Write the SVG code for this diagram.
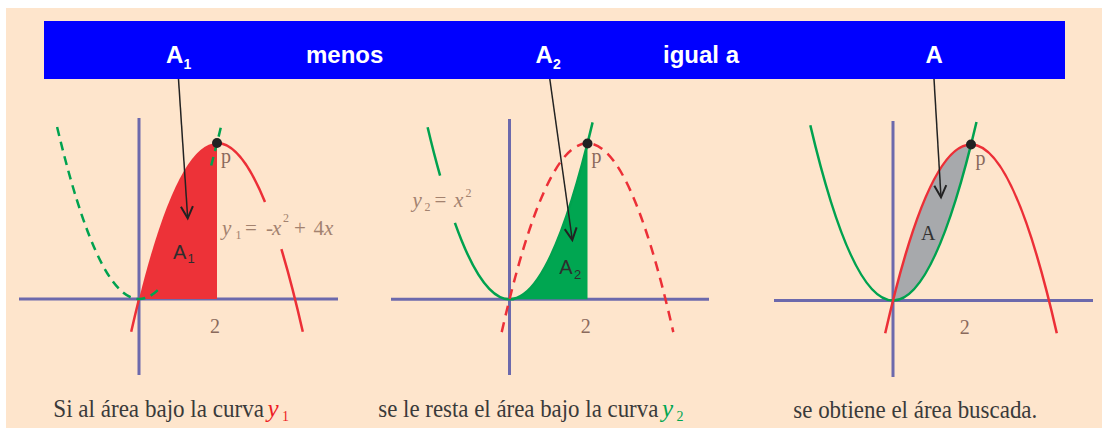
<svg xmlns="http://www.w3.org/2000/svg" width="1102" height="428" viewBox="0 0 1102 428">
<style>
.axis{stroke:#6C69AC;stroke-width:3;fill:none}
.red{stroke:#EC2F37;stroke-width:2.5;fill:none}
.grn{stroke:#00A24F;stroke-width:2.5;fill:none}
.dash1{stroke-dasharray:9 6}
.dash2{stroke-dasharray:10 7}
.bar{font-family:"Liberation Sans",Arial,sans-serif;font-weight:bold;fill:#FFFFFF;font-size:24px}
.lbl{font-family:"Liberation Serif","Times New Roman",serif;fill:#8A6A5C;font-size:20px}
.eq{font-family:"Liberation Serif","Times New Roman",serif;fill:#A3826F;font-size:21px}
.it{font-style:italic}
.area{font-family:"Liberation Sans",Arial,sans-serif;fill:#2E2E2E;font-size:20px}
.cap{font-family:"Liberation Serif","Times New Roman",serif;fill:#3A3A3A;font-size:25px}
.sub{font-size:12px}
.capsub{font-size:14px}
.barsub{font-size:14px}
.areasub{font-size:13px}
.arrow{stroke:#222;stroke-width:1.5;fill:none}
</style>
<defs>
<marker id="vhead" markerUnits="userSpaceOnUse" markerWidth="20" markerHeight="20" viewBox="-12 -8 14 16" refX="0" refY="0" orient="auto">
<path d="M-9.5,-4.8 L0,0 L-9.5,4.8" fill="none" stroke="#222" stroke-width="1.6"/>
</marker>
</defs>
<rect x="0" y="0" width="1102" height="428" fill="#FFFFFF"/>
<rect x="6" y="8" width="1096" height="420" fill="#FEE5CC"/>

<g id="header">
<rect x="44" y="21" width="1021" height="58" fill="#0000FF"/>
<text class="bar" x="166" y="63.3">A</text>
<text class="bar barsub" x="183.5" y="69.3">1</text>
<text class="bar" x="306" y="63.3">menos</text>
<text class="bar" x="535.5" y="63.3">A</text>
<text class="bar barsub" x="553" y="69.3">2</text>
<text class="bar" x="663" y="63.3">igual a</text>
<text class="bar" x="925.5" y="63.3">A</text>
</g>

<g id="panel1">
<line class="axis" x1="139" y1="118" x2="139" y2="375"/>
<line class="axis" x1="19" y1="299" x2="338" y2="299"/>
<path d="M139,299 Q178,143 217,143 L217,299 Z" fill="#ED3238"/>
<path class="red" d="M131.2,331.8 Q135.1,314.6 139,299"/>
<path class="red" d="M217,143 Q241,143 265,202"/>
<path class="red" d="M281.4,249.2 Q292.1,284.6 302.8,331.8"/>
<path class="grn dash1" d="M57.1,127 Q107.8,340 158.5,289.3"/>
<path class="grn dash1" d="M211.2,165.5 Q216.6,145.3 222.1,122.1"/>
<circle cx="217" cy="143" r="5" fill="#222"/>
<text class="lbl" x="221" y="163">p</text>
<text class="lbl" x="215" y="333" text-anchor="middle">2</text>
<text class="area" x="173" y="259.3">A</text>
<text class="area areasub" x="187.5" y="263.3">1</text>
<text class="eq it" x="222" y="235">y</text>
<text class="eq sub" x="235.5" y="238.5">1</text>
<text class="eq" x="245" y="235">=</text>
<text class="eq" x="266" y="235">-</text>
<text class="eq it" x="272" y="235">x</text>
<text class="eq sub" x="283" y="221.5">2</text>
<text class="eq" x="294" y="235">+</text>
<text class="eq" x="313.5" y="235">4</text>
<text class="eq it" x="324" y="235">x</text>
</g>

<g id="panel2">
<line class="axis" x1="509.5" y1="119" x2="509.5" y2="375"/>
<line class="axis" x1="391" y1="299.3" x2="709" y2="299.3"/>
<path d="M509.5,299.3 Q548.5,299.3 587.5,143.3 L587.5,299.3 Z" fill="#00A651"/>
<path class="grn" d="M427.6,127.3 Q433.8,153.5 440.1,175.7"/>
<path class="grn" d="M454.9,222.9 Q523.7,415.6 592.6,122.4"/>
<path class="red dash2" d="M501.7,332.1 Q587.5,-45.5 673.3,332.1"/>
<circle cx="587.5" cy="143.5" r="5" fill="#222"/>
<text class="lbl" x="591.5" y="163">p</text>
<text class="lbl" x="585.7" y="333" text-anchor="middle">2</text>
<text class="area" x="559.3" y="274">A</text>
<text class="area areasub" x="574" y="279.3">2</text>
<text class="eq it" x="412.5" y="207">y</text>
<text class="eq sub" x="424.5" y="210.5">2</text>
<text class="eq" x="434.5" y="207">=</text>
<text class="eq it" x="454" y="207">x</text>
<text class="eq sub" x="465.5" y="197">2</text>
</g>

<g id="panel3">
<line class="axis" x1="893" y1="121" x2="893" y2="377"/>
<line class="axis" x1="774" y1="300.5" x2="1093" y2="300.5"/>
<path d="M893,300.5 Q932,144.5 971,144.5 Q932,300.5 893,300.5 Z" fill="#A7A9AC"/>
<path class="grn" d="M810.3,125.2 Q893.4,477.4 976.5,122"/>
<path class="red" d="M885.2,333.3 Q971,-44.3 1056.8,333.3"/>
<circle cx="971" cy="144.5" r="5" fill="#222"/>
<text class="lbl" x="975.5" y="165">p</text>
<text class="lbl" x="964.7" y="334" text-anchor="middle">2</text>
<text x="921" y="240" font-family="Liberation Serif,Times New Roman,serif" font-size="20" fill="#333">A</text>
</g>

<g id="connectors">
<line class="arrow" x1="178.5" y1="79" x2="187.7" y2="218.3" marker-end="url(#vhead)"/>
<line class="arrow" x1="549.8" y1="79" x2="572.3" y2="240" marker-end="url(#vhead)"/>
<line class="arrow" x1="934" y1="79" x2="941" y2="197.3" marker-end="url(#vhead)"/>
</g>

<g id="captions">
<text class="cap" y="416.7"><tspan x="53.3" textLength="210.7" lengthAdjust="spacingAndGlyphs">Si al área bajo la curva</tspan><tspan class="it" x="267.5" style="fill:#ED1C24">y</tspan><tspan class="capsub" x="282" y="420.5" style="fill:#ED1C24">1</tspan></text>
<text class="cap" y="416.7"><tspan x="378.3" textLength="280" lengthAdjust="spacingAndGlyphs">se le resta el área bajo la curva</tspan><tspan class="it" x="662" style="fill:#00A651">y</tspan><tspan class="capsub" x="676.5" y="420.5" style="fill:#00A651">2</tspan></text>
<text class="cap" x="793.3" y="418" textLength="244" lengthAdjust="spacingAndGlyphs">se obtiene el área buscada.</text>
</g>
</svg>
